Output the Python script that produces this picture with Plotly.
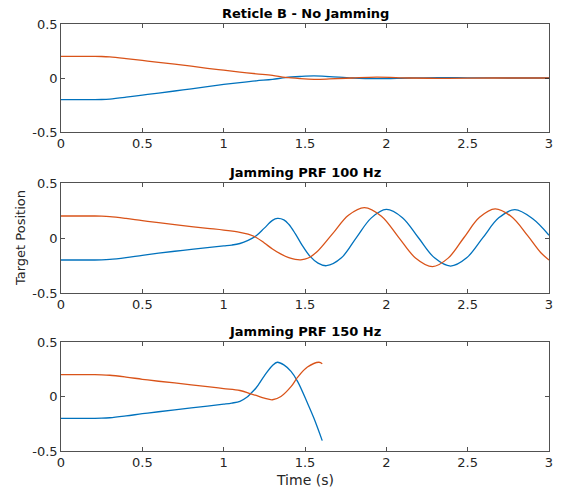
import plotly.graph_objects as go

# ---------------- data ----------------
t1 = [0, 0.1, 0.2, 0.25, 0.3, 0.4, 0.5, 0.6, 0.75, 0.9, 1.0, 1.1, 1.2, 1.3, 1.38,
      1.47, 1.556, 1.65, 1.79, 1.94, 2.14, 2.32, 2.5, 2.75, 3.0]
blue1 = [-0.2, -0.2, -0.2, -0.199, -0.195, -0.178, -0.158, -0.14, -0.11, -0.08, -0.06,
         -0.042, -0.026, -0.013, 0.004, 0.014, 0.019, 0.013, 0.0, -0.006, 0.0, 0.004,
         0.002, 0.0, 0.0]
orange1 = [0.2, 0.2, 0.2, 0.199, 0.195, 0.18, 0.163, 0.145, 0.119, 0.09, 0.072, 0.055,
           0.039, 0.024, 0.005, -0.006, -0.012, -0.009, 0.0, 0.008, 0.0, -0.003,
           -0.001, 0.0, 0.0]

t2_blue = [0, 0.1, 0.2, 0.25, 0.3, 0.4, 0.5, 0.6, 0.75, 0.9, 1.0, 1.05, 1.1, 1.15, 1.2,
           1.25, 1.3, 1.33, 1.37, 1.4, 1.44, 1.48, 1.53, 1.58, 1.632, 1.724, 1.816,
           1.908, 2.0, 2.099, 2.1975, 2.296, 2.395, 2.494, 2.5925, 2.691, 2.79, 2.9, 3.0]
blue2 = [-0.2, -0.2, -0.2, -0.199, -0.195, -0.178, -0.157, -0.138, -0.112, -0.088,
         -0.072, -0.064, -0.05, -0.022, 0.02, 0.09, 0.16, 0.178, 0.165, 0.125, 0.04,
         -0.06, -0.165, -0.228, -0.252, -0.18, 0.004, 0.183, 0.26, 0.185, 0.002,
         -0.18, -0.255, -0.18, 0.001, 0.183, 0.258, 0.175, 0.025]
t2_orange = [0, 0.1, 0.2, 0.25, 0.3, 0.4, 0.5, 0.6, 0.75, 0.9, 1.0, 1.1, 1.15, 1.2, 1.25,
             1.3, 1.35, 1.4, 1.44, 1.474, 1.52, 1.572, 1.67, 1.767, 1.865, 1.97, 2.0745,
             2.179, 2.284, 2.38, 2.4765, 2.573, 2.669, 2.77, 2.87, 2.95, 3.0]
orange2 = [0.2, 0.2, 0.2, 0.199, 0.195, 0.178, 0.158, 0.14, 0.112, 0.088, 0.072, 0.052,
           0.035, 0.005, -0.045, -0.1, -0.145, -0.178, -0.194, -0.198, -0.182, -0.128,
           0.04, 0.207, 0.277, 0.198, 0.0085, -0.181, -0.26, -0.183, 0.0025, 0.188,
           0.265, 0.193, 0.019, -0.134, -0.2]

t3_blue = [0, 0.1, 0.2, 0.25, 0.3, 0.4, 0.5, 0.6, 0.75, 0.9, 1.0, 1.05, 1.1, 1.14, 1.165,
           1.2, 1.25, 1.3, 1.33, 1.37, 1.414, 1.455, 1.515, 1.555, 1.606]
blue3 = [-0.2, -0.2, -0.2, -0.199, -0.195, -0.178, -0.158, -0.14, -0.113, -0.088, -0.07,
         -0.06, -0.045, -0.01, 0.025, 0.08, 0.19, 0.285, 0.314, 0.29, 0.23, 0.137,
         -0.06, -0.2, -0.405]
t3_orange = [0, 0.1, 0.2, 0.25, 0.3, 0.4, 0.5, 0.6, 0.75, 0.9, 1.0, 1.1, 1.165, 1.2, 1.25,
             1.3, 1.352, 1.414, 1.455, 1.515, 1.586, 1.606]
orange3 = [0.2, 0.2, 0.2, 0.199, 0.195, 0.178, 0.158, 0.14, 0.116, 0.09, 0.073, 0.055,
           0.025, 0.01, -0.015, -0.03, 0.0, 0.09, 0.177, 0.27, 0.314, 0.30]

titles = ["Reticle B - No Jamming", "Jamming PRF 100 Hz", "Jamming PRF 150 Hz"]
x_ticks = [0, 0.5, 1, 1.5, 2, 2.5, 3]
x_tick_text = ["0", "0.5", "1", "1.5", "2", "2.5", "3"]
y_ticks = [-0.5, 0, 0.5]
y_tick_text = ["-0.5", "0", "0.5"]
x_label = "Time (s)"
y_label = "Target Position"

# ---------------- styling ----------------
BLUE = "#0072BD"
ORANGE = "#D95319"
FONT = "DejaVu Sans, Liberation Sans, sans-serif"
AXC = "#262626"

fig = go.Figure()
series = [
    (t1, blue1, t1, orange1),
    (t2_blue, blue2, t2_orange, orange2),
    (t3_blue, blue3, t3_orange, orange3),
]
for i, (tb, yb, to, yo) in enumerate(series):
    suffix = "" if i == 0 else str(i + 1)
    fig.add_trace(go.Scatter(x=tb, y=yb, mode="lines", line=dict(color=BLUE, width=1.3, shape="spline"),
                             xaxis="x" + suffix, yaxis="y" + suffix, showlegend=False))
    fig.add_trace(go.Scatter(x=to, y=yo, mode="lines", line=dict(color=ORANGE, width=1.3, shape="spline"),
                             xaxis="x" + suffix, yaxis="y" + suffix, showlegend=False))

H_PLOT = 427.0
domains = [((451 - 132) / H_PLOT, 1.0),
           ((451 - 293) / H_PLOT, (451 - 183) / H_PLOT),
           (0.0, (451 - 342) / H_PLOT)]

layout = dict(
    width=565, height=494,
    margin=dict(l=61, r=13, t=24, b=43),
    paper_bgcolor="white", plot_bgcolor="white",
    font=dict(family=FONT, size=13, color=AXC),
    showlegend=False,
)
axis_common = dict(showgrid=False, zeroline=False, showline=True, mirror="ticks",
                   linecolor=AXC, linewidth=0.8, ticks="inside", ticklen=4,
                   tickcolor=AXC, tickwidth=0.8, tickfont=dict(family=FONT, size=13, color=AXC))
for i in range(3):
    suffix = "" if i == 0 else str(i + 1)
    layout["xaxis" + suffix] = dict(axis_common, domain=[0, 1], range=[0, 3],
                                    tickvals=x_ticks, ticktext=x_tick_text,
                                    anchor="y" + suffix)
    layout["yaxis" + suffix] = dict(axis_common, domain=list(domains[i]), range=[-0.5, 0.5],
                                    tickvals=y_ticks, ticktext=y_tick_text,
                                    anchor="x" + suffix)
fig.update_layout(**layout)

ann = []
for i in range(3):
    ann.append(dict(text="<b>" + titles[i] + "</b>", x=0.5, y=domains[i][1], xref="paper", yref="paper",
                    xanchor="center", yanchor="bottom", yshift=1, showarrow=False,
                    font=dict(family=FONT, size=13, color="black")))
ann.append(dict(text=x_label, x=0.5, y=0, xref="paper", yref="paper", xanchor="center",
                yanchor="top", yshift=-19, showarrow=False, font=dict(family=FONT, size=14, color=AXC)))
ann.append(dict(text=y_label, x=0, y=(domains[1][0] + domains[1][1]) / 2, xref="paper", yref="paper",
                xanchor="center", yanchor="middle", xshift=-41, textangle=-90, showarrow=False,
                font=dict(family=FONT, size=13, color=AXC)))
fig.update_layout(annotations=ann)

fig.write_html("out.html", config={"displayModeBar": False, "staticPlot": True},
               post_script="document.body.style.margin='0';document.body.style.padding='0';")
